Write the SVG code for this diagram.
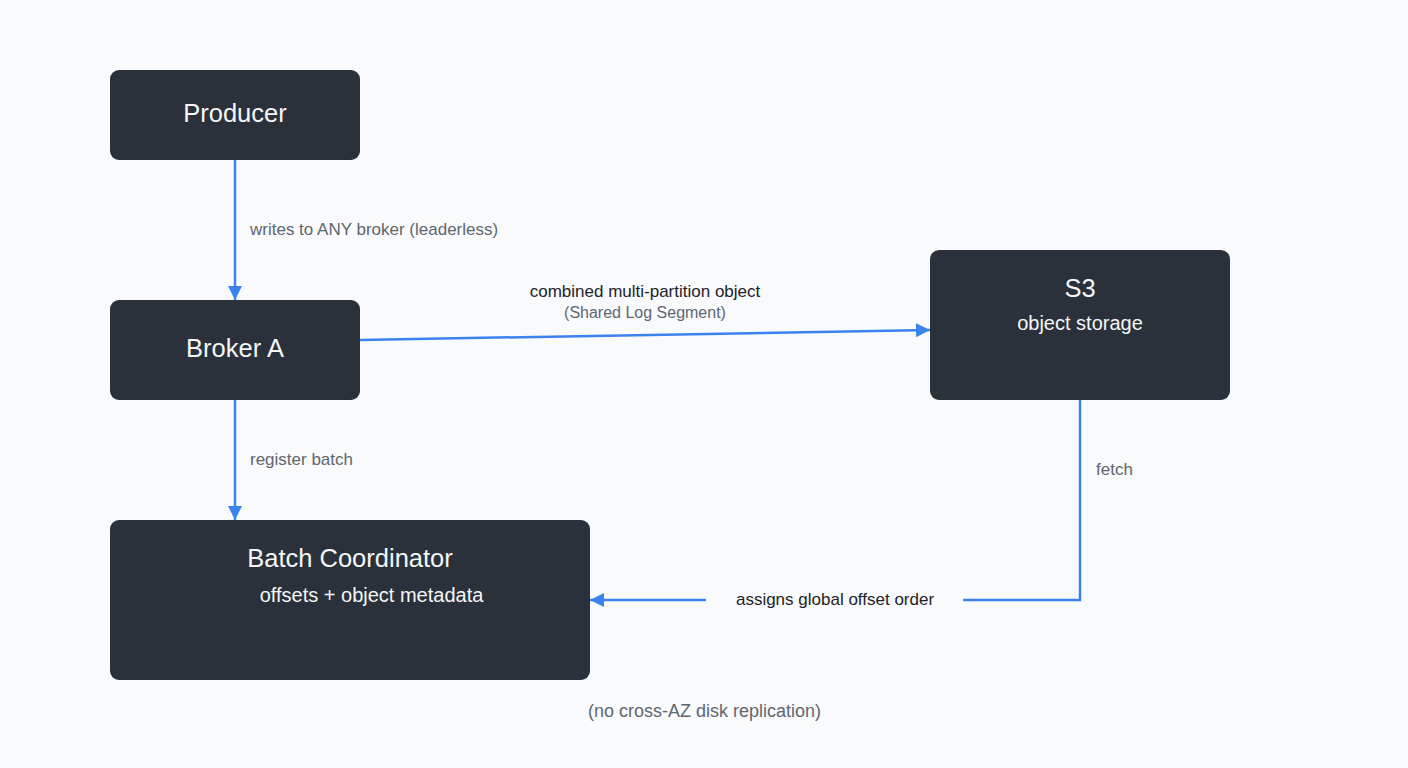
<svg xmlns="http://www.w3.org/2000/svg" width="1408" height="768" viewBox="0 0 1408 768">
<style>
.node{fill:#2b313a}
.t{font-family:"Liberation Sans",Arial,sans-serif;fill:#f4f6f8;text-anchor:middle}
.big{font-size:25.5px}
.sub{font-size:20px}
.lbl{font-family:"Liberation Sans",Arial,sans-serif;font-size:17px;fill:#5f6670}
.dk{fill:#1f2328}
.edge{stroke:#3b82f0;stroke-width:2.5;fill:none}
</style>
<defs>
<marker id="arr" viewBox="0 0 14 14" refX="14" refY="7" markerWidth="14" markerHeight="14" markerUnits="userSpaceOnUse" orient="auto">
<path d="M0,0 L14,7 L0,14 Z" fill="#3b82f0"/>
</marker>
</defs>
<rect width="1408" height="768" fill="#f8fafc"/>
<g id="connectors">
<line class="edge" x1="235" y1="160" x2="235" y2="300" marker-end="url(#arr)"/>
<line class="edge" x1="360" y1="340" x2="930" y2="330" marker-end="url(#arr)"/>
<line class="edge" x1="235" y1="400" x2="235" y2="520" marker-end="url(#arr)"/>
<polyline class="edge" points="1080,400 1080,600 963,600"/>
<line class="edge" x1="706" y1="600" x2="590" y2="600" marker-end="url(#arr)"/>
<text class="lbl" x="250" y="235">writes to ANY broker (leaderless)</text>
<text class="lbl dk" x="645" y="297" text-anchor="middle">combined multi-partition object</text>
<text class="lbl" x="645" y="318" text-anchor="middle" style="font-size:16px">(Shared Log Segment)</text>
<text class="lbl" x="250" y="465">register batch</text>
<text class="lbl" x="1096" y="475">fetch</text>
<text class="lbl dk" x="835" y="605" text-anchor="middle">assigns global offset order</text>
</g>
<g id="producer">
<rect class="node" x="110" y="70" width="250" height="90" rx="9"/>
<text class="t big" x="235" y="122">Producer</text>
</g>
<g id="broker-a">
<rect class="node" x="110" y="300" width="250" height="100" rx="9"/>
<text class="t big" x="235" y="357">Broker A</text>
</g>
<g id="s3">
<rect class="node" x="930" y="250" width="300" height="150" rx="9"/>
<text class="t big" x="1080" y="297">S3</text>
<text class="t sub" x="1080" y="330">object storage</text>
</g>
<g id="batch-coordinator">
<rect class="node" x="110" y="520" width="480" height="160" rx="9"/>
<text class="t big" x="350" y="567">Batch Coordinator</text>
<text class="t sub" x="371.5" y="602">offsets + object metadata</text>
</g>
<text class="lbl" x="588" y="717" style="font-size:18px">(no cross-AZ disk replication)</text>
</svg>
